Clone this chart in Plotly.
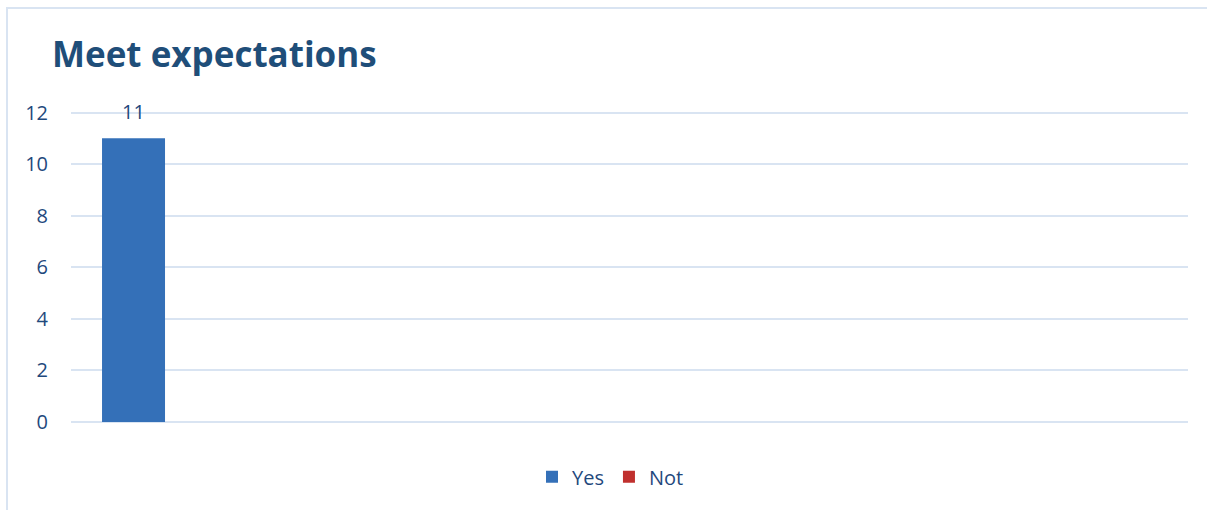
import plotly.graph_objects as go

# Survey answers to "Meet expectations"
category = [""]
series_names = ["Yes", "Not"]
series_values = [[11], [0]]
series_colors = ["#3470B8", "#C0302E"]
label_values = [11, None]

TEXT_BLUE = "#1F497D"
GRID = "#D9E4F2"
BARGAP = 0.33

# plot-area size in pixels, used to place the outer chart border
W, H = 1207, 510
ML, MR, MT, MB = 71, 19, 110, 88
PW, PH = W - ML - MR, H - MT - MB

fig = go.Figure()
for name, vals, color in zip(series_names, series_values, series_colors):
    fig.add_trace(go.Bar(
        x=category, y=vals, name=name,
        marker=dict(color=color, line=dict(width=0)),
    ))

# value labels above the bars
n = len(series_names)
bar_w = (1 - BARGAP) / n
for i, (name, v) in enumerate(zip(series_names, label_values)):
    if v is None:
        continue
    xpos = -(1 - BARGAP) / 2 + bar_w * (i + 0.5)
    fig.add_annotation(x=xpos, y=v, text=str(v), showarrow=False,
                       yanchor="middle", yshift=27,
                       font=dict(family="Open Sans", size=20, color=TEXT_BLUE))

fig.update_layout(
    width=W, height=H,
    margin=dict(l=ML, r=MR, t=MT, b=MB),
    paper_bgcolor="white", plot_bgcolor="white",
    barmode="group", bargap=BARGAP, bargroupgap=0,
    title=dict(text="<b>Meet expectations</b>", x=52 / W, xref="container",
               xanchor="left", y=0.892, yanchor="middle",
               pad=dict(l=0),
               font=dict(family="Open Sans", size=35, color="#1F4E79")),
    font=dict(family="Open Sans", color=TEXT_BLUE),
    showlegend=True,
    legend=dict(orientation="h", x=0.5 + 7 / W, xanchor="center",
                xref="container",
                y=0.065, yanchor="middle", yref="container",
                font=dict(size=20, color=TEXT_BLUE),
                itemwidth=30, traceorder="normal"),
    xaxis=dict(type="category", range=[-0.5, 5.44], showticklabels=False,
               showgrid=False, zeroline=False, showline=False, ticks=""),
    yaxis=dict(range=[-0.001, 12.1], tickvals=[0, 2, 4, 6, 8, 10, 12],
               showgrid=True, gridcolor=GRID,
               gridwidth=2, zeroline=True, zerolinecolor=GRID,
               zerolinewidth=2, showline=False,
               tickfont=dict(size=20, color=TEXT_BLUE),
               ticklabelstandoff=22),
    shapes=[dict(type="rect", xref="paper", yref="paper",
                 x0=(7 - ML) / PW, x1=1.2, y0=-0.6, y1=1 + (MT - 8) / PH,
                 line=dict(color=GRID, width=2), layer="below")],
)

fig.write_html("out.html")
